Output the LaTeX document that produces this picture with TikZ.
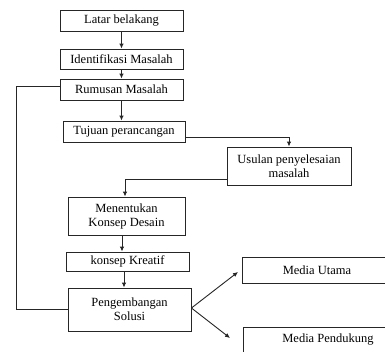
\documentclass[tikz,border=0pt]{standalone}
\usepackage{fontspec}
\setmainfont{Liberation Serif}
\usetikzlibrary{arrows.meta}
\begin{document}
\begin{tikzpicture}[x=1pt,y=-1pt,
  box/.style={draw=black!85, line width=0.9pt, inner sep=0pt, align=center,
    font=\fontsize{12.5}{14}\selectfont},
  conn/.style={draw=black!85, line width=0.9pt},
  arr/.style={conn, -{Latex[length=5pt,width=4.5pt]}}]
\useasboundingbox (0,0) rectangle (385,351);
\fill[white] (0,0) rectangle (385,351);
\clip (0,0) rectangle (385,351);
\node[box, minimum width=123, minimum height=21] (latar) at (121.5,20.5) {Latar belakang};
\node[box, minimum width=123, minimum height=20] (ident) at (121.5,59) {Identifikasi Masalah};
\node[box, minimum width=123, minimum height=21] (rumus) at (121.5,89.5) {Rumusan Masalah};
\node[box, minimum width=122, minimum height=21] (tujuan) at (124,131.5) {Tujuan perancangan};
\node[box, minimum width=124, minimum height=38] (usulan) at (289,166) {Usulan penyelesaian\\masalah};
\node[box, minimum width=117, minimum height=38] (menentu) at (126.5,216) {Menentukan\\Konsep Desain};
\node[box, minimum width=123, minimum height=19] (konsep) at (127.5,261.5) {konsep Kreatif};
\node[box, minimum width=123, minimum height=43] (peng) at (129.5,309.5) {Pengembangan\\Solusi};
\node[box, minimum width=150, minimum height=26] (utama) at (317,270) {Media Utama};
\node[box, minimum width=170, minimum height=26] (pendukung) at (328,340) {Media Pendukung};
\coordinate (leftx) at (16,0);
\coordinate (endU) at (238,272);
\coordinate (endP) at (230,338);
\draw[arr] (latar.south) -- (ident.north);
\draw[arr] (ident.south) -- (rumus.north);
\draw[arr] (rumus.south) -- (rumus.south |- tujuan.north);
\draw[arr] ([yshift=-5.5pt]tujuan.east) -| (usulan.north);
\draw[arr] ([yshift=-13.5pt]usulan.west) -| ([xshift=-1.5pt]menentu.north);
\draw[arr] ([xshift=-4.5pt]menentu.south) -- ([xshift=-4.5pt]menentu.south |- konsep.north);
\draw[arr] ([xshift=-3.5pt]konsep.south) -- ([xshift=-3.5pt]konsep.south |- peng.north);
\draw[conn] ([yshift=3.5pt]rumus.west) -| (leftx |- peng.west) -- (peng.west);
\draw[arr] ([yshift=1.5pt]peng.east) -- (endU);
\draw[arr] ([yshift=1.5pt]peng.east) -- (endP);
\end{tikzpicture}
\end{document}
